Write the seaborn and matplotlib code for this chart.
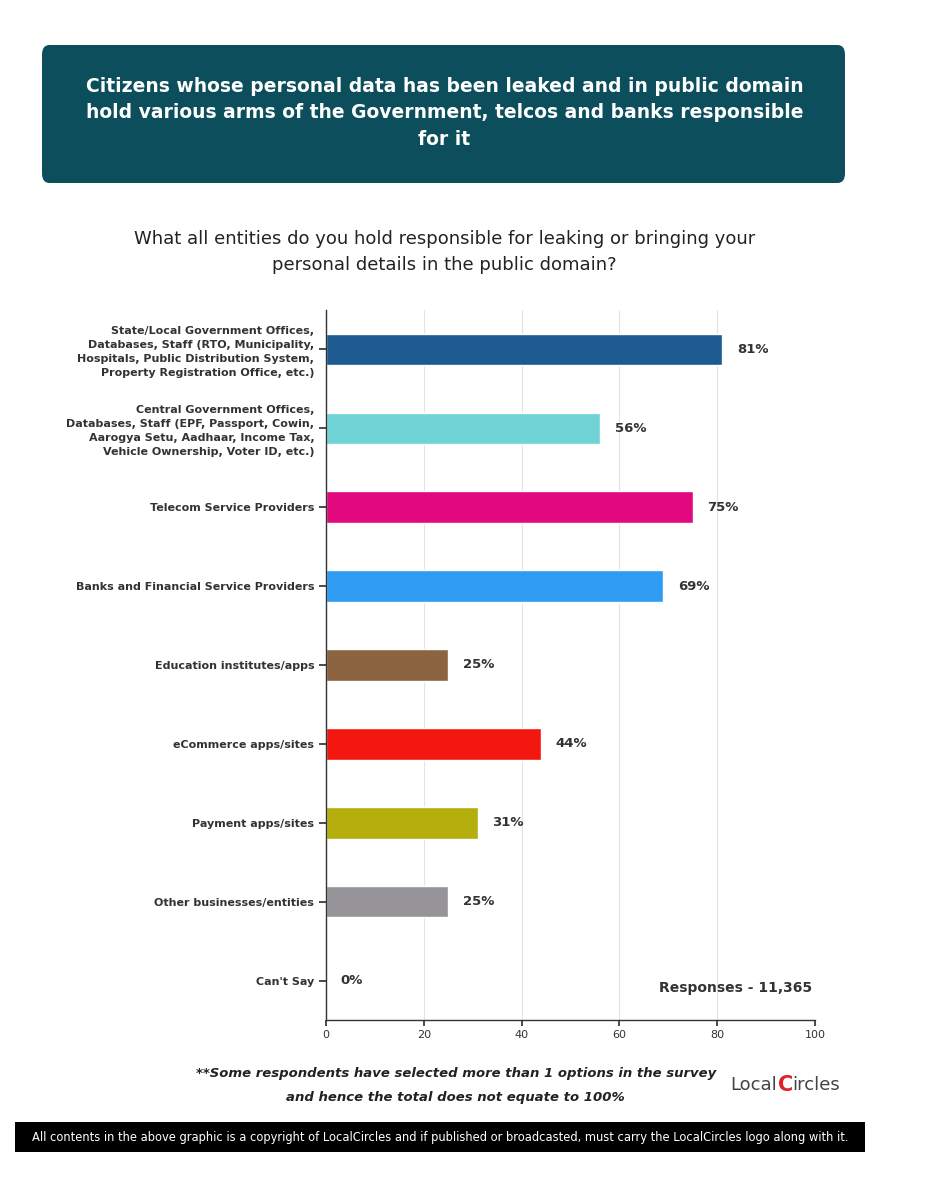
import matplotlib
matplotlib.use("Agg")
import matplotlib.pyplot as plt
import seaborn as sns
import pandas as pd
from matplotlib.patches import FancyBboxPatch, Rectangle

categories = [
    "State/Local Government Offices,\nDatabases, Staff (RTO, Municipality,\nHospitals, Public Distribution System,\nProperty Registration Office, etc.)",
    "Central Government Offices,\nDatabases, Staff (EPF, Passport, Cowin,\nAarogya Setu, Aadhaar, Income Tax,\nVehicle Ownership, Voter ID, etc.)",
    "Telecom Service Providers",
    "Banks and Financial Service Providers",
    "Education institutes/apps",
    "eCommerce apps/sites",
    "Payment apps/sites",
    "Other businesses/entities",
    "Can't Say",
]
values = [81, 56, 75, 69, 25, 44, 31, 25, 0]
colors = ["#1c5a8f", "#6fd3d6", "#e2097f", "#2e9cf2", "#8c6441", "#f4170f", "#b4af0c", "#969499", "#cccccc"]
ticks = [0, 20, 40, 60, 80, 100]

sns.set_theme(style="white")
plt.rcParams['font.family'] = ['DejaVu Sans']
fig = plt.figure(figsize=(9.3, 12), dpi=100)

fig.patches.append(FancyBboxPatch((42/930, 1-183/1200), 803/930, 138/1200, boxstyle="round,pad=0,rounding_size=0.008",
                                  transform=fig.transFigure, facecolor="#0c4e5b", edgecolor="none"))
fig.text(0.478, 1-113/1200, "Citizens whose personal data has been leaked and in public domain\nhold various arms of the Government, telcos and banks responsible\nfor it",
         ha="center", va="center", color="white", fontsize=13.5, fontweight="bold", linespacing=1.5)
fig.text(0.478, 1-252/1200, "What all entities do you hold responsible for leaking or bringing your\npersonal details in the public domain?",
         ha="center", va="center", color="#222222", fontsize=13, linespacing=1.6)

ax = fig.add_axes([326/930, 1-1020/1200, 489/930, 710/1200])
df = pd.DataFrame({"cat": categories, "val": values})
sns.barplot(data=df, x="val", y="cat", hue="cat", palette=colors, legend=False, ax=ax, width=0.4, saturation=1)
ax.set_xlim(0, 100)
ax.set_xticks(ticks)
ax.set_xticklabels([str(t) for t in ticks], fontsize=8, color="#333333")
ax.tick_params(axis="y", labelsize=8, length=5, color="#333333", left=True)
ax.tick_params(axis="x", length=4, bottom=True, color="#333333")
for lab in ax.get_yticklabels():
    lab.set_fontweight("bold"); lab.set_color("#333333"); lab.set_linespacing(1.5)
ax.set_xlabel(""); ax.set_ylabel("")
ax.xaxis.grid(True, color="#e4e4e4", lw=0.8)
ax.set_axisbelow(True)
for s in ["top", "right"]:
    ax.spines[s].set_visible(False)
for s in ["left", "bottom"]:
    ax.spines[s].set_color("#333333"); ax.spines[s].set_linewidth(1)
for i, v in enumerate(values):
    ax.text(v + 3, i, f"{v}%", va="center", ha="left", fontsize=9.5, fontweight="bold", color="#333333")
ax.text(0.995, 0.045, "Responses - 11,365", transform=ax.transAxes, ha="right", va="center",
        fontsize=10, fontweight="bold", color="#333333")

fig.text(0.49, 1-1073/1200, "**Some respondents have selected more than 1 options in the survey", ha="center", va="center",
         fontsize=9.5, style="italic", fontweight="bold", color="#222222")
fig.text(0.49, 1-1098/1200, "and hence the total does not equate to 100%", ha="center", va="center",
         fontsize=9.5, style="italic", fontweight="bold", color="#222222")
fig.text(730/930, 1-1085/1200, "Local", ha="left", va="center", fontsize=13, color="#444444")
fig.text(778/930, 1-1085/1200, "C", ha="left", va="center", fontsize=15, color="#e0202a", fontweight="bold")
fig.text(792/930, 1-1085/1200, "ircles", ha="left", va="center", fontsize=13, color="#444444")
fig.patches.append(Rectangle((15/930, 1-1152/1200), 850/930, 30/1200, transform=fig.transFigure,
                             facecolor="black", edgecolor="none"))
fig.text(440/930, 1-1137/1200, "All contents in the above graphic is a copyright of LocalCircles and if published or broadcasted, must carry the LocalCircles logo along with it.",
         ha="center", va="center", fontsize=8.3, color="white")
fig.savefig("out.png", dpi=100)
